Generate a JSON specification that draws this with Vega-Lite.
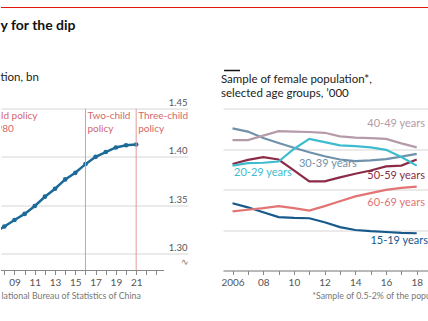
{
  "$schema": "https://vega.github.io/schema/vega-lite/v6.json",
  "padding": {"left": 0, "top": 6.5, "right": 0, "bottom": 0},
  "background": "white",
  "bounds": "flush",
  "spacing": 35,
  "title": {"text": "y for the dip", "anchor": "start", "fontSize": 14, "fontWeight": "bold", "font": "Lato", "color": "#121212", "offset": -25.5},
  "datasets": {
    "pop": [
      {"year": 2007, "pop": 1.3213},
      {"year": 2008, "pop": 1.3280},
      {"year": 2009, "pop": 1.3347},
      {"year": 2010, "pop": 1.3410},
      {"year": 2011, "pop": 1.3492},
      {"year": 2012, "pop": 1.3588},
      {"year": 2013, "pop": 1.3670},
      {"year": 2014, "pop": 1.3767},
      {"year": 2015, "pop": 1.3835},
      {"year": 2016, "pop": 1.3925},
      {"year": 2017, "pop": 1.4000},
      {"year": 2018, "pop": 1.4050},
      {"year": 2019, "pop": 1.4097},
      {"year": 2020, "pop": 1.4120},
      {"year": 2021, "pop": 1.4128}
    ],
    "policy": [
      {"year": 2004.0, "label": "One-child policy\nsince 1980"},
      {"year": 2016, "label": "Two-child\npolicy"},
      {"year": 2021, "label": "Three-child\npolicy"}
    ],
    "female": [
      {"year": 2006, "group": "15-19", "value": 36.6},
      {"year": 2007, "group": "15-19", "value": 35.6},
      {"year": 2008, "group": "15-19", "value": 34.4},
      {"year": 2009, "group": "15-19", "value": 33.2},
      {"year": 2010, "group": "15-19", "value": 33.0},
      {"year": 2011, "group": "15-19", "value": 32.9},
      {"year": 2012, "group": "15-19", "value": 31.9},
      {"year": 2013, "group": "15-19", "value": 30.7},
      {"year": 2014, "group": "15-19", "value": 30.0},
      {"year": 2015, "group": "15-19", "value": 29.7},
      {"year": 2016, "group": "15-19", "value": 29.5},
      {"year": 2017, "group": "15-19", "value": 29.3},
      {"year": 2018, "group": "15-19", "value": 29.2},
      {"year": 2006, "group": "60-69", "value": 34.6},
      {"year": 2007, "group": "60-69", "value": 35.0},
      {"year": 2008, "group": "60-69", "value": 35.4},
      {"year": 2009, "group": "60-69", "value": 35.9},
      {"year": 2010, "group": "60-69", "value": 35.4},
      {"year": 2011, "group": "60-69", "value": 34.8},
      {"year": 2012, "group": "60-69", "value": 35.9},
      {"year": 2013, "group": "60-69", "value": 37.1},
      {"year": 2014, "group": "60-69", "value": 38.3},
      {"year": 2015, "group": "60-69", "value": 39.1},
      {"year": 2016, "group": "60-69", "value": 39.9},
      {"year": 2017, "group": "60-69", "value": 40.4},
      {"year": 2018, "group": "60-69", "value": 40.7},
      {"year": 2006, "group": "50-59", "value": 46.3},
      {"year": 2007, "group": "50-59", "value": 47.3},
      {"year": 2008, "group": "50-59", "value": 48.0},
      {"year": 2009, "group": "50-59", "value": 47.4},
      {"year": 2010, "group": "50-59", "value": 44.7},
      {"year": 2011, "group": "50-59", "value": 42.0},
      {"year": 2012, "group": "50-59", "value": 42.0},
      {"year": 2013, "group": "50-59", "value": 43.0},
      {"year": 2014, "group": "50-59", "value": 43.9},
      {"year": 2015, "group": "50-59", "value": 44.7},
      {"year": 2016, "group": "50-59", "value": 45.7},
      {"year": 2017, "group": "50-59", "value": 45.9},
      {"year": 2018, "group": "50-59", "value": 47.4},
      {"year": 2006, "group": "30-39", "value": 55.1},
      {"year": 2007, "group": "30-39", "value": 54.3},
      {"year": 2008, "group": "30-39", "value": 52.7},
      {"year": 2009, "group": "30-39", "value": 51.5},
      {"year": 2010, "group": "30-39", "value": 50.3},
      {"year": 2011, "group": "30-39", "value": 49.2},
      {"year": 2012, "group": "30-39", "value": 48.2},
      {"year": 2013, "group": "30-39", "value": 47.4},
      {"year": 2014, "group": "30-39", "value": 47.0},
      {"year": 2015, "group": "30-39", "value": 47.2},
      {"year": 2016, "group": "30-39", "value": 47.5},
      {"year": 2017, "group": "30-39", "value": 48.1},
      {"year": 2018, "group": "30-39", "value": 48.8},
      {"year": 2006, "group": "40-49", "value": 52.2},
      {"year": 2007, "group": "40-49", "value": 52.2},
      {"year": 2008, "group": "40-49", "value": 53.3},
      {"year": 2009, "group": "40-49", "value": 54.4},
      {"year": 2010, "group": "40-49", "value": 54.3},
      {"year": 2011, "group": "40-49", "value": 54.2},
      {"year": 2012, "group": "40-49", "value": 54.0},
      {"year": 2013, "group": "40-49", "value": 53.1},
      {"year": 2014, "group": "40-49", "value": 52.8},
      {"year": 2015, "group": "40-49", "value": 52.7},
      {"year": 2016, "group": "40-49", "value": 52.5},
      {"year": 2017, "group": "40-49", "value": 51.4},
      {"year": 2018, "group": "40-49", "value": 50.4},
      {"year": 2006, "group": "20-29", "value": 45.9},
      {"year": 2007, "group": "20-29", "value": 46.5},
      {"year": 2008, "group": "20-29", "value": 46.6},
      {"year": 2009, "group": "20-29", "value": 46.9},
      {"year": 2010, "group": "20-29", "value": 50.0},
      {"year": 2011, "group": "20-29", "value": 52.5},
      {"year": 2012, "group": "20-29", "value": 51.7},
      {"year": 2013, "group": "20-29", "value": 50.9},
      {"year": 2014, "group": "20-29", "value": 50.7},
      {"year": 2015, "group": "20-29", "value": 50.4},
      {"year": 2016, "group": "20-29", "value": 49.8},
      {"year": 2017, "group": "20-29", "value": 48.0},
      {"year": 2018, "group": "20-29", "value": 45.9}
    ],
    "labels": [
      {"group": "40-49", "label": "40-49 years", "year": 2018.54, "value": 56.2},
      {"group": "50-59", "label": "50-59 years", "year": 2018.54, "value": 43.3},
      {"group": "60-69", "label": "60-69 years", "year": 2018.54, "value": 36.6},
      {"group": "15-19", "label": "15-19 years", "year": 2018.74, "value": 27.2},
      {"group": "30-39", "label": "30-39 years", "year": 2010.33, "value": 46.35},
      {"group": "20-29", "label": "20-29 years", "year": 2006.1, "value": 44.0}
    ]
  },
  "hconcat": [
    {
      "width": 187,
      "height": 162,
      "title": {"text": "tion, bn", "anchor": "start", "fontSize": 11.5, "fontWeight": "normal", "color": "#222", "offset": -76},
      "layer": [
        {
          "data": {"name": "pop"},
          "mark": {"type": "line", "color": "#1b6a98", "strokeWidth": 2.5, "clip": true},
          "encoding": {
            "x": {"field": "year", "type": "quantitative",
              "scale": {"domain": [2007.67, 2026.11], "nice": false, "zero": false},
              "axis": {"title": "lational Bureau of Statistics of China", "titleX": 0, "titleY": 27.5, "titleAnchor": "start", "titleAlign": "left", "titleBaseline": "alphabetic", "titleFontSize": 8.8, "titleFontWeight": "normal", "titleColor": "#777",
                "values": [2008, 2009, 2010, 2011, 2012, 2013, 2014, 2015, 2016, 2017, 2018, 2019, 2020, 2021, 2022, 2023],
                "tickCount": 100,
                "format": "d", "labelExpr": "datum.value % 2 == 1 && datum.value <= 2021 ? slice(datum.label, 2) : ''",
                "labelOverlap": false,
                "domain": false, "grid": false, "ticks": true, "tickSize": 4, "tickColor": "#888", "labelPadding": 3, "labelFontSize": 10, "labelColor": "#555"}},
            "y": {"field": "pop", "type": "quantitative",
              "scale": {"domain": [1.2825, 1.45], "nice": false, "zero": false},
              "axis": {"title": null, "orient": "right", "values": [1.30, 1.35, 1.40, 1.45], "tickCount": 100, "format": ".2f", "grid": true, "gridColor": "#d6d6d6", "domain": false, "ticks": false, "tickSize": 0, "labelAlign": "right", "labelPadding": -1, "labelBaseline": "alphabetic", "labelOffset": -3, "labelFontSize": 9.5, "labelColor": "#555", "labelOverlap": false}}
          }
        },
        {
          "data": {"name": "pop"},
          "mark": {"type": "point", "filled": true, "opacity": 1, "color": "#1b6a98", "size": 22, "clip": true},
          "encoding": {
            "x": {"field": "year", "type": "quantitative"},
            "y": {"field": "pop", "type": "quantitative"}
          }
        },
        {
          "data": {"name": "policy"},
          "mark": {"type": "rule", "color": "#e39a9c", "strokeWidth": 1, "clip": true},
          "encoding": {
            "x": {"field": "year", "type": "quantitative"},
            "y": {"datum": 1.45},
            "y2": {"datum": 1.2825}
          }
        },
        {
          "data": {"name": "policy"},
          "mark": {"type": "text", "align": "left", "baseline": "top", "dx": 2, "dy": 2, "fontSize": 10, "lineHeight": 13, "lineBreak": "\n", "color": "#d4676c", "clip": true},
          "encoding": {
            "x": {"field": "year", "type": "quantitative"},
            "y": {"datum": 1.45},
            "text": {"field": "label"}
          }
        },
        {
          "data": {"values": [{}]},
          "mark": {"type": "rule", "color": "#888", "strokeWidth": 1},
          "encoding": {
            "x": {"datum": 2007.67},
            "x2": {"datum": 2023.75},
            "y": {"datum": 1.2825}
          }
        },
        {
          "data": {"values": [{}]},
          "mark": {"type": "text", "text": "∿", "color": "#777", "fontSize": 9, "align": "center", "baseline": "middle"},
          "encoding": {
            "x": {"datum": 2025.8},
            "y": {"datum": 1.2918}
          }
        },
        {
          "data": {"values": [{}]},
          "mark": {"type": "rule", "color": "#e3120b", "strokeWidth": 1},
          "encoding": {
            "x": {"datum": 2007.67},
            "x2": {"datum": 2049.85},
            "y": {"datum": 1.5544}
          }
        }
      ]
    },
    {
      "width": 206,
      "height": 162,
      "title": {"text": ["Sample of female population*,", "selected age groups, ’000"], "anchor": "start", "fontSize": 11.5, "fontWeight": "normal", "color": "#222", "lineHeight": 14, "offset": -30},
      "layer": [
        {
          "data": {"name": "female"},
          "mark": {"type": "line", "strokeWidth": 2.2},
          "encoding": {
            "x": {"field": "year", "type": "quantitative",
              "scale": {"domain": [2005.38, 2018.8], "nice": false, "zero": false},
              "axis": {"title": "*Sample of 0.5-2% of the popu", "titleX": 88.7, "titleY": 27.5, "titleAnchor": "start", "titleAlign": "left", "titleBaseline": "alphabetic", "titleFontSize": 8.8, "titleFontWeight": "normal", "titleColor": "#777",
                "values": [2006, 2007, 2008, 2009, 2010, 2011, 2012, 2013, 2014, 2015, 2016, 2017, 2018],
                "tickCount": 100,
                "format": "d", "labelExpr": "datum.value == 2006 ? datum.label : (datum.value % 2 == 0 ? slice(datum.label, 2) : '')",
                "labelOverlap": false,
                "domain": true, "domainColor": "#888", "grid": false, "ticks": true, "tickSize": 4, "tickColor": "#888", "labelPadding": 3, "labelFontSize": 10, "labelColor": "#555"}},
            "y": {"field": "value", "type": "quantitative",
              "scale": {"domain": [20, 60], "nice": false, "zero": false},
              "axis": {"title": null, "orient": "right", "values": [20, 30, 40, 50, 60], "tickCount": 100, "grid": true, "gridColor": "#d6d6d6", "domain": false, "ticks": false, "labels": false}},
            "color": {"field": "group", "type": "nominal", "legend": null,
              "scale": {"domain": ["15-19", "20-29", "30-39", "40-49", "50-59", "60-69"],
                        "range": ["#17598a", "#3dbccf", "#6f92aa", "#b59aa8", "#8c2b47", "#e27474"]}},
            "order": {"field": "year", "type": "quantitative"}
          }
        },
        {
          "data": {"name": "labels"},
          "transform": [{"filter": {"field": "group", "oneOf": ["40-49", "50-59", "60-69", "15-19"]}}],
          "mark": {"type": "text", "align": "right", "baseline": "middle", "fontSize": 11},
          "encoding": {
            "x": {"field": "year", "type": "quantitative"},
            "y": {"field": "value", "type": "quantitative"},
            "text": {"field": "label"},
            "color": {"field": "group", "type": "nominal", "legend": null}
          }
        },
        {
          "data": {"name": "labels"},
          "transform": [{"filter": {"field": "group", "oneOf": ["30-39", "20-29"]}}],
          "mark": {"type": "text", "align": "left", "baseline": "middle", "fontSize": 11},
          "encoding": {
            "x": {"field": "year", "type": "quantitative"},
            "y": {"field": "value", "type": "quantitative"},
            "text": {"field": "label"},
            "color": {"field": "group", "type": "nominal", "legend": null}
          }
        },
        {
          "data": {"values": [{}]},
          "mark": {"type": "rule", "color": "#121212", "strokeWidth": 1.5},
          "encoding": {
            "x": {"datum": 2005.45},
            "x2": {"datum": 2006.49},
            "y": {"datum": 69.38}
          }
        }
      ]
    }
  ],
  "config": {
    "view": {"stroke": null},
    "font": "Lato",
    "title": {"font": "Lato"},
    "axis": {"labelFont": "Lato", "titleFont": "Lato"},
    "text": {"font": "Lato"}
  }
}
